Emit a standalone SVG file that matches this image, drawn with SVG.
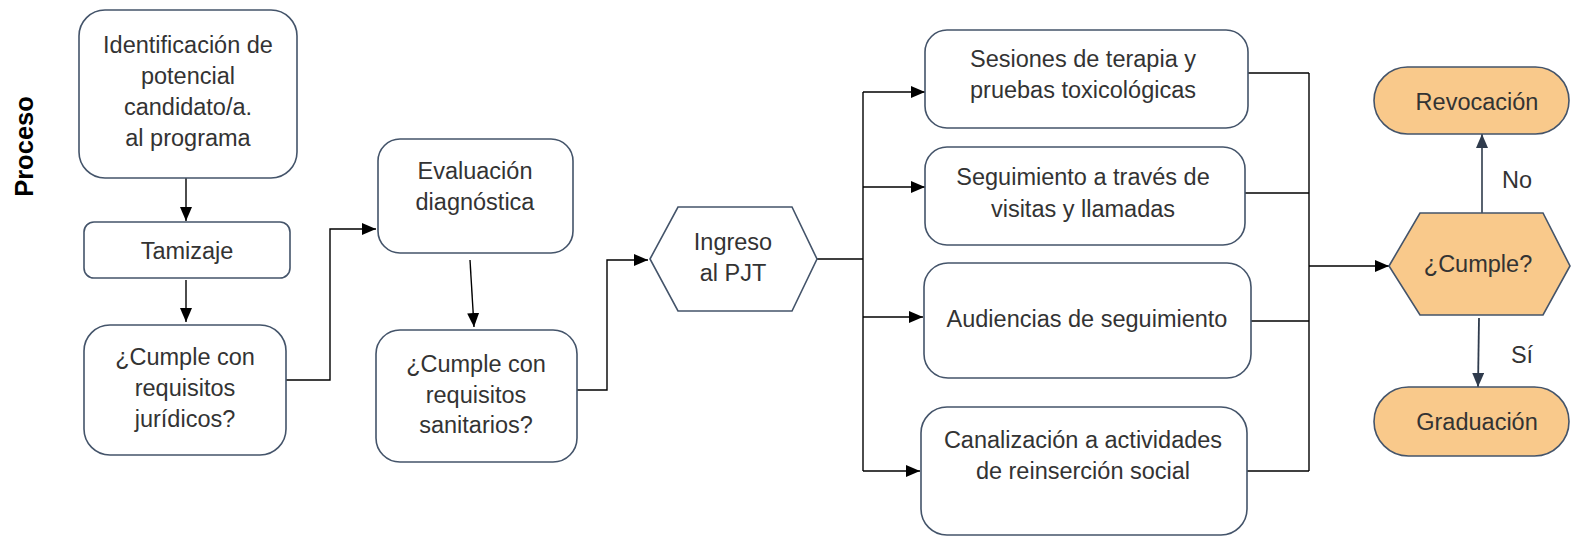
<svg xmlns="http://www.w3.org/2000/svg" width="1571" height="537" viewBox="0 0 1571 537">
<style>
.n{fill:#fff;stroke:#44546a;stroke-width:1.6}
.o{fill:#f9c98b;stroke:#44546a;stroke-width:1.6}
.t{font-family:"Liberation Sans",Arial,sans-serif;font-size:23.5px;fill:#333;text-anchor:middle}
.c{fill:none;stroke:#000;stroke-width:1.4}
</style>
<defs>
<marker id="a" markerWidth="14" markerHeight="12" refX="14" refY="6" orient="auto" markerUnits="userSpaceOnUse"><path d="M0,0 L14,6 L0,12 Z" fill="#000"/></marker>
<marker id="b" markerWidth="14" markerHeight="12" refX="14" refY="6" orient="auto" markerUnits="userSpaceOnUse"><path d="M0,0 L14,6 L0,12 Z" fill="#2f3b4c"/></marker>
</defs>
<text x="0" y="0" transform="translate(33,146.5) rotate(-90)" style="font-family:'Liberation Sans',Arial,sans-serif;font-size:25.5px;font-weight:bold;fill:#000;text-anchor:middle">Proceso</text>
<g id="connectors">
<path class="c" d="M186,178 V221" marker-end="url(#a)"/>
<path class="c" d="M186,280 V322" marker-end="url(#a)"/>
<path class="c" d="M286,380 H330 V229 H376" marker-end="url(#a)"/>
<path class="c" d="M470,260 L474,327" marker-end="url(#a)"/>
<path class="c" d="M577,390 H607 V260 H648" marker-end="url(#a)"/>
<path class="c" d="M817,259 H863"/>
<path class="c" d="M863,92 V471"/>
<path class="c" d="M863,92 H925" marker-end="url(#a)"/>
<path class="c" d="M863,187 H925" marker-end="url(#a)"/>
<path class="c" d="M863,317 H923" marker-end="url(#a)"/>
<path class="c" d="M863,471 H920" marker-end="url(#a)"/>
<path class="c" d="M1248,73 H1309"/>
<path class="c" d="M1245,193 H1309"/>
<path class="c" d="M1251,321 H1309"/>
<path class="c" d="M1247,471 H1309"/>
<path class="c" d="M1309,73 V471"/>
<path class="c" d="M1309,266 H1389" marker-end="url(#a)"/>
<path d="M1482,213 V134" fill="none" stroke="#2f3b4c" stroke-width="1.6" marker-end="url(#b)"/>
<path d="M1479,318 L1478,387" fill="none" stroke="#2f3b4c" stroke-width="1.8" marker-end="url(#b)"/>
<text class="t" x="1517" y="188">No</text>
<text class="t" x="1522" y="363">Sí</text>
</g>
<g id="n1"><rect class="n" x="79" y="10" width="218" height="168" rx="26"/>
<text class="t" x="188" y="53">Identificación  de</text>
<text class="t" x="188" y="84">potencial</text>
<text class="t" x="188" y="115">candidato/a.</text>
<text class="t" x="188" y="146">al programa</text></g>
<g id="n2"><rect class="n" x="84" y="222" width="206" height="56" rx="10"/>
<text class="t" x="187" y="259">Tamizaje</text></g>
<g id="n3"><rect class="n" x="84" y="325" width="202" height="130" rx="26"/>
<text class="t" x="185" y="365">¿Cumple con</text>
<text class="t" x="185" y="396">requisitos</text>
<text class="t" x="185" y="427">jurídicos?</text></g>
<g id="n4"><rect class="n" x="378" y="139" width="195" height="114" rx="22"/>
<text class="t" x="475" y="179">Evaluación</text>
<text class="t" x="475" y="210">diagnóstica</text></g>
<g id="n5"><rect class="n" x="376" y="330" width="201" height="132" rx="24"/>
<text class="t" x="476" y="372">¿Cumple con</text>
<text class="t" x="476" y="403">requisitos</text>
<text class="t" x="476" y="433">sanitarios?</text></g>
<g id="n6"><polygon class="n" points="650,259 678,207 792,207 817,259 792,311 678,311"/>
<text class="t" x="733" y="250">Ingreso</text>
<text class="t" x="733" y="281">al PJT</text></g>
<g id="n7"><rect class="n" x="925" y="30" width="323" height="98" rx="22"/>
<text class="t" x="1083" y="67">Sesiones de terapia y</text>
<text class="t" x="1083" y="98">pruebas toxicológicas</text></g>
<g id="n8"><rect class="n" x="925" y="147" width="320" height="98" rx="22"/>
<text class="t" x="1083" y="185">Seguimiento a través de</text>
<text class="t" x="1083" y="217">visitas y llamadas</text></g>
<g id="n9"><rect class="n" x="924" y="263" width="327" height="115" rx="24"/>
<text class="t" x="1087" y="327">Audiencias de seguimiento</text></g>
<g id="n10"><rect class="n" x="921" y="407" width="326" height="128" rx="26"/>
<text class="t" x="1083" y="448">Canalización a actividades</text>
<text class="t" x="1083" y="479">de reinserción social</text></g>
<g id="n11"><polygon class="o" points="1389,266 1420,213 1543,213 1570,266 1543,315 1420,315"/>
<text class="t" x="1478" y="272">¿Cumple?</text></g>
<g id="n12"><rect class="o" x="1374" y="67" width="195" height="67" rx="33.5"/>
<text class="t" x="1477" y="110">Revocación</text></g>
<g id="n13"><rect class="o" x="1374" y="387" width="195" height="69" rx="34.5"/>
<text class="t" x="1477" y="430">Graduación</text></g>
</svg>
